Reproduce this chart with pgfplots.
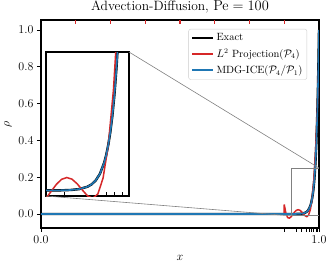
\documentclass[border=0pt]{standalone}
\usepackage{pgfplots}
\pgfplotsset{compat=1.18}
\definecolor{mplred}{RGB}{214,39,40}
\definecolor{mplblue}{RGB}{31,119,180}

\pgfplotstableread{
x y
0 0
0.85 0
0.9 0.0000454
0.91 0.000123
0.92 0.000335
0.93 0.000912
0.94 0.00248
0.95 0.00674
0.955 0.0111
0.96 0.0183
0.965 0.0302
0.97 0.0498
0.9725 0.0639
0.975 0.0821
0.9775 0.1054
0.98 0.1353
0.9825 0.1738
0.985 0.2231
0.9875 0.2865
0.99 0.3679
0.9925 0.4724
0.995 0.6065
0.9965 0.7047
0.998 0.8187
0.999 0.9048
1.0 1.0
}\exacttable

\pgfplotstableread{
x y
0 0
0.8749 0
0.875 0.051413
0.88125 0.001866
0.8875 -0.019709
0.89375 -0.022525
0.9 -0.014349
0.90625 -0.001509
0.9125 0.01111
0.91875 0.020064
0.925 0.023352
0.93125 0.020416
0.9375 0.012138
0.94375 0.000842
0.95 -0.009706
0.95625 -0.014296
0.9625 -0.00628
0.96875 0.022437
0.975 0.081387
0.98125 0.181547
0.9875 0.335337
0.99375 0.556614
1.0 0.860708
}\redtable

\begin{document}
\begin{tikzpicture}
\path[use as bounding box] (-41pt,-39pt) rectangle (292pt,228pt);
\begin{axis}[
 name=main,
 at={(0pt,0pt)}, anchor=south west,
 scale only axis, width=278pt, height=208pt,
 xmin=0, xmax=1, ymin=-0.076, ymax=1.054,
 axis line style={line width=1.3pt},
 xtick={0,1}, xticklabels={$0.0$,$1.0$},
 ytick={0,0.2,0.4,0.6,0.8,1.0},
 yticklabels={$0.0$,$0.2$,$0.4$,$0.6$,$0.8$,$1.0$},
 extra x ticks={0.877,0.920,0.936,0.953,0.964,0.972,0.981,0.989,0.996},
 extra x tick labels={},
 tick align=outside, xtick pos=bottom, ytick pos=left,
 major tick length=4pt,
 tick style={black, line width=0.8pt},
 tick label style={font=\fontsize{11.5}{13}\selectfont},
 label style={font=\fontsize{11.5}{13}\selectfont},
 xlabel style={yshift=3pt},
 title={Advection-Diffusion, $\mathrm{Pe} = 100$},
 title style={font=\fontsize{13.5}{15}\selectfont, at={(0.5,1)}, anchor=base, yshift=3.5pt},
 xlabel={$x$}, ylabel={$\rho$},
 legend style={at={(0.957,0.957)}, anchor=north east, draw=black!20, rounded corners=2pt,
   fill=white, fill opacity=0.8, text opacity=1, draw opacity=1,
   font=\fontsize{10.5}{12}\selectfont, inner sep=2.5pt, row sep=2.5pt},
 legend cell align=left,
 legend image code/.code={\draw[#1, opacity=1] (0pt,0pt) -- (21pt,0pt);},
]
\addplot[black, line width=2.4pt] table {\exacttable};
\addlegendentry{Exact}
\addplot[color=mplred, line width=1.5pt] table {\redtable};
\addlegendentry{$L^2$ Projection($\mathcal{P}_4$)}
\addplot[color=mplblue, line width=1.6pt] table {\exacttable};
\addlegendentry{MDG-ICE($\mathcal{P}_4/\mathcal{P}_1$)}
\draw[gray, line width=0.7pt] (axis cs:0.9,-0.01) rectangle (axis cs:1,0.25);
\coordinate (rNE) at (axis cs:1,0.25);
\coordinate (rSW) at (axis cs:0.9,-0.01);
\coordinate (inSW) at (axis cs:0.018,0.0978);
\end{axis}
\begin{axis}[
 at={(0pt,0pt)}, anchor=south west,
 scale only axis, width=278pt, height=208pt,
 xmin=0, xmax=1, ymin=0, ymax=1,
 axis line style={draw=none},
 ytick=\empty, yticklabels={},
 xtick={0.125,0.25,0.375,0.5,0.625,0.75,0.875},
 xticklabels={}, xtick pos=top,
 tick align=inside, major tick length=4.5pt,
 xtick style={draw=mplred, line width=1.4pt},
]
\end{axis}
\begin{axis}[
 name=inset, at={(inSW)}, anchor=south west,
 scale only axis, width=83pt, height=144pt,
 xmin=0.9, xmax=1, ymin=-0.01, ymax=0.25,
 axis line style={line width=1.3pt},
 axis background/.style={fill=white},
 xtick={0.922,0.973,0.982,0.992}, xticklabels={},
 ytick=\empty, xtick pos=bottom,
 tick align=inside, major tick length=4pt,
 tick style={black, line width=0.8pt},
]
\addplot[black, line width=2.4pt] table {\exacttable};
\addplot[color=mplred, line width=1.5pt] table {\redtable};
\addplot[color=mplblue, line width=1.6pt] table {\exacttable};
\end{axis}
\draw[gray, line width=0.6pt] (inset.north east) -- (rNE);
\draw[gray, line width=0.6pt] (inset.south west) -- (rSW);
\end{tikzpicture}
\end{document}
